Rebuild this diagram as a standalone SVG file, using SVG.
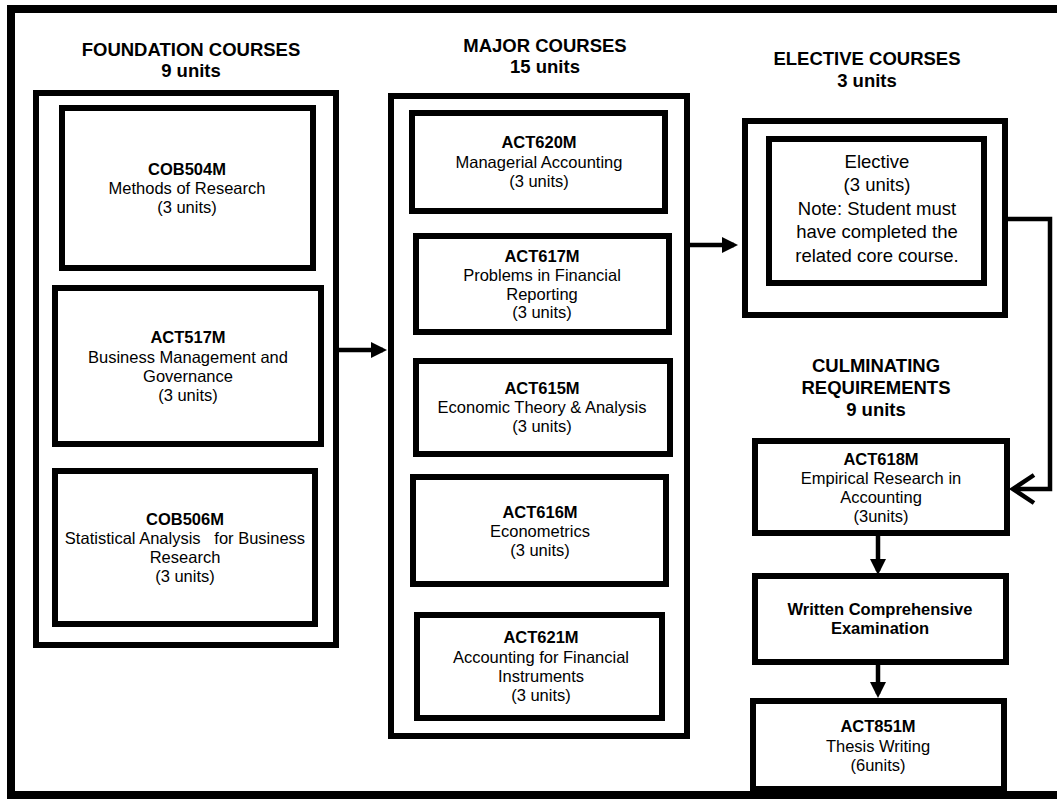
<svg xmlns="http://www.w3.org/2000/svg" width="1057" height="799" viewBox="0 0 1057 799">
<style>
text{font-family:"Liberation Sans",Arial,sans-serif;fill:#000;text-anchor:middle}
.t{font-size:18.5px;font-weight:bold}
.b{font-size:16.5px}
.c{font-size:16.5px;font-weight:bold}
.e{font-size:18.5px}
.box{fill:#fff;stroke:#000;stroke-width:6}
.grp{fill:none;stroke:#000;stroke-width:6}
.ln{fill:none;stroke:#000;stroke-width:4.5}
</style>
<defs>
<marker id="ah" markerUnits="userSpaceOnUse" viewBox="0 0 16 16" markerWidth="16" markerHeight="16" refX="12" refY="8" orient="auto">
<path d="M0,0 L16,8 L0,16 z" fill="#000"/>
</marker>
<marker id="chev" markerUnits="userSpaceOnUse" viewBox="0 0 26 32" markerWidth="26" markerHeight="32" refX="23" refY="16" orient="auto">
<path d="M2,2 L23,16 L2,30" fill="none" stroke="#000" stroke-width="4.5"/>
</marker>
</defs>
<rect x="0" y="0" width="1057" height="799" fill="#fff"/>
<rect x="11" y="9" width="1065" height="786" fill="none" stroke="#000" stroke-width="8"/>

<g id="titles">
<text class="t" x="191" y="56">FOUNDATION COURSES</text>
<text class="t" x="191" y="77">9 units</text>
<text class="t" x="545" y="52">MAJOR COURSES</text>
<text class="t" x="545" y="73">15 units</text>
<text class="t" x="867" y="65">ELECTIVE COURSES</text>
<text class="t" x="867" y="87">3 units</text>
<text class="t" x="876" y="372">CULMINATING</text>
<text class="t" x="876" y="394">REQUIREMENTS</text>
<text class="t" x="876" y="416">9 units</text>
</g>

<g id="foundation">
<rect class="grp" x="36" y="93" width="300" height="552"/>
</g>
<g id="cob504m">
<rect class="box" x="62" y="108" width="251" height="160"/>
<text class="c" x="187" y="175">COB504M</text>
<text class="b" x="187" y="194">Methods of Research</text>
<text class="b" x="187" y="213">(3 units)</text>
</g>
<g id="act517m">
<rect class="box" x="55" y="288" width="266" height="156"/>
<text class="c" x="188" y="343">ACT517M</text>
<text class="b" x="188" y="363">Business Management and</text>
<text class="b" x="188" y="382">Governance</text>
<text class="b" x="188" y="401">(3 units)</text>
</g>
<g id="cob506m">
<rect class="box" x="55" y="471" width="260" height="153"/>
<text class="c" x="185" y="525">COB506M</text>
<text class="b" x="185" y="544" xml:space="preserve">Statistical Analysis   for Business</text>
<text class="b" x="185" y="563">Research</text>
<text class="b" x="185" y="582">(3 units)</text>
</g>

<g id="major">
<rect class="grp" x="391" y="96" width="296" height="640"/>
</g>
<g id="act620m">
<rect class="box" x="412" y="113" width="253" height="98"/>
<text class="c" x="539" y="148">ACT620M</text>
<text class="b" x="539" y="168">Managerial Accounting</text>
<text class="b" x="539" y="187">(3 units)</text>
</g>
<g id="act617m">
<rect class="box" x="416" y="236" width="253" height="96"/>
<text class="c" x="542" y="262">ACT617M</text>
<text class="b" x="542" y="281">Problems in Financial</text>
<text class="b" x="542" y="300">Reporting</text>
<text class="b" x="542" y="318">(3 units)</text>
</g>
<g id="act615m">
<rect class="box" x="416" y="361" width="254" height="93"/>
<text class="c" x="542" y="394">ACT615M</text>
<text class="b" x="542" y="413">Economic Theory &amp; Analysis</text>
<text class="b" x="542" y="432">(3 units)</text>
</g>
<g id="act616m">
<rect class="box" x="413" y="477" width="253" height="107"/>
<text class="c" x="540" y="518">ACT616M</text>
<text class="b" x="540" y="537">Econometrics</text>
<text class="b" x="540" y="556">(3 units)</text>
</g>
<g id="act621m">
<rect class="box" x="417" y="615" width="245" height="103"/>
<text class="c" x="541" y="643">ACT621M</text>
<text class="b" x="541" y="663">Accounting for Financial</text>
<text class="b" x="541" y="682">Instruments</text>
<text class="b" x="541" y="701">(3 units)</text>
</g>

<g id="elective-group">
<rect class="grp" x="745" y="121" width="260" height="194"/>
</g>
<g id="elective">
<rect class="box" x="769" y="139" width="215" height="144"/>
<text class="e" x="877" y="168">Elective</text>
<text class="e" x="877" y="191">(3 units)</text>
<text class="e" x="877" y="215">Note: Student must</text>
<text class="e" x="877" y="238">have completed the</text>
<text class="e" x="877" y="262">related core course.</text>
</g>

<g id="act618m">
<rect class="box" x="755" y="441" width="252" height="92"/>
<text class="c" x="881" y="465">ACT618M</text>
<text class="b" x="881" y="484">Empirical Research in</text>
<text class="b" x="881" y="503">Accounting</text>
<text class="b" x="881" y="522">(3units)</text>
</g>
<g id="written">
<rect class="box" x="755" y="576" width="251" height="86"/>
<text class="c" x="880" y="615">Written Comprehensive</text>
<text class="c" x="880" y="634">Examination</text>
</g>
<g id="act851m">
<rect class="box" x="753" y="701" width="251" height="88"/>
<text class="c" x="878" y="732">ACT851M</text>
<text class="b" x="878" y="752">Thesis Writing</text>
<text class="b" x="878" y="771">(6units)</text>
</g>

<g id="connectors">
<line class="ln" x1="339" y1="350" x2="383" y2="350" marker-end="url(#ah)"/>
<line class="ln" x1="690" y1="245" x2="734" y2="245" marker-end="url(#ah)"/>
<polyline class="ln" points="1008,219 1050,219 1050,489 1013,489" marker-end="url(#chev)"/>
<line class="ln" x1="878" y1="536" x2="878" y2="571" marker-end="url(#ah)"/>
<line class="ln" x1="878" y1="665" x2="878" y2="694" marker-end="url(#ah)"/>
</g>
</svg>
